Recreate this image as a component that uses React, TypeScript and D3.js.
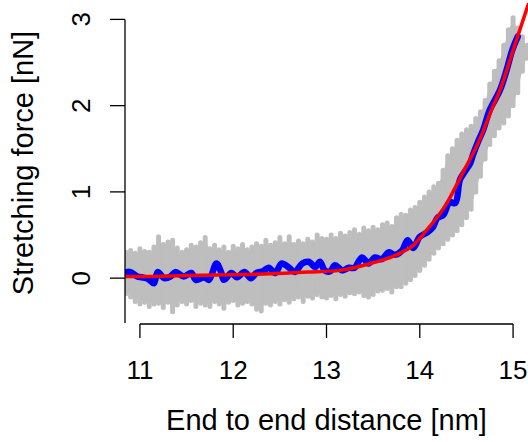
import React from "react";
import * as d3 from "d3";

// raw force samples: x position [nm] with lower / upper extent of the gray cloud [nN]
const grayX = [
  10.85, 10.9, 10.95, 11.0, 11.05, 11.1, 11.15, 11.2, 11.25, 11.3, 11.35, 11.4, 11.45, 11.5, 11.55,
  11.6, 11.65, 11.7, 11.75, 11.8, 11.85, 11.9, 11.95, 12.0, 12.05, 12.1, 12.15, 12.2, 12.25, 12.3,
  12.35, 12.4, 12.45, 12.5, 12.55, 12.6, 12.65, 12.7, 12.75, 12.8, 12.85, 12.9, 12.95, 13.0, 13.05,
  13.1, 13.15, 13.2, 13.25, 13.3, 13.35, 13.4, 13.45, 13.5, 13.55, 13.6, 13.65, 13.7, 13.75, 13.8,
  13.85, 13.9, 13.95, 14.0, 14.05, 14.1, 14.15, 14.2, 14.25, 14.3, 14.35, 14.4, 14.45, 14.5, 14.55,
  14.6, 14.65, 14.7, 14.75, 14.8, 14.85, 14.9, 14.95, 15.0, 15.05, 15.1, 15.15,
];
const grayLo = [
  -0.18, -0.22, -0.27, -0.3, -0.28, -0.33, -0.3, -0.29, -0.34, -0.28, -0.39, -0.31, -0.27, -0.3, -0.26,
  -0.33, -0.29, -0.31, -0.33, -0.27, -0.3, -0.35, -0.28, -0.26, -0.31, -0.29, -0.27, -0.3, -0.36, -0.38,
  -0.29, -0.31, -0.27, -0.3, -0.25, -0.28, -0.24, -0.22, -0.27, -0.21, -0.23, -0.19, -0.22, -0.23, -0.2,
  -0.24, -0.19, -0.21, -0.17, -0.18, -0.16, -0.2, -0.22, -0.19, -0.15, -0.14, -0.12, -0.16, -0.1, -0.1,
  -0.06, -0.02, 0.03, 0.09, 0.15, 0.22, 0.29, 0.35, 0.4, 0.45, 0.5, 0.55, 0.62, 0.7, 0.8,
  1.0, 1.18, 1.38, 1.55, 1.65, 1.74, 1.8, 1.88, 2.0, 2.15, 2.4, 2.55,
];
const grayHi = [
  0.3, 0.32, 0.29, 0.34, 0.31, 0.3, 0.36, 0.48, 0.39, 0.42, 0.44, 0.35, 0.3, 0.33, 0.38,
  0.36, 0.41, 0.47, 0.34, 0.38, 0.33, 0.36, 0.3, 0.37, 0.34, 0.39, 0.33, 0.36, 0.4, 0.37,
  0.44, 0.38, 0.41, 0.47, 0.4, 0.48, 0.39, 0.43, 0.4, 0.45, 0.42, 0.5, 0.46, 0.45, 0.5,
  0.46, 0.52, 0.49, 0.53, 0.56, 0.51, 0.58, 0.55, 0.59, 0.56, 0.62, 0.64, 0.6, 0.7, 0.74,
  0.73, 0.79, 0.82, 0.88, 0.94, 1.0, 1.06, 1.1, 1.25, 1.42, 1.5, 1.6, 1.67, 1.72, 1.76,
  1.85, 1.93, 2.06, 2.25, 2.4, 2.52, 2.7, 2.88, 3.02, 2.9, 2.8, 2.7,
];

// smoothed trace (blue)
const blueX = [
  10.85, 10.9, 10.97, 11.02, 11.09, 11.15, 11.19, 11.26, 11.33, 11.38, 11.47, 11.55, 11.6, 11.69,
  11.74, 11.82, 11.87, 11.9, 11.98, 12.04, 12.12, 12.19, 12.25, 12.32, 12.38, 12.45, 12.52, 12.6,
  12.66, 12.74, 12.81, 12.88, 12.93, 12.98, 13.04, 13.09, 13.17, 13.24, 13.3, 13.38, 13.45, 13.52,
  13.59, 13.67, 13.73, 13.81, 13.87, 13.93, 14.0, 14.08, 14.14, 14.19, 14.25, 14.32, 14.38, 14.43,
  14.48, 14.54, 14.57, 14.62, 14.68, 14.75, 14.86, 14.93, 14.99, 15.05,
];
const blueY = [
  0.07, 0.07, 0.02, 0.01, -0.01, -0.06, 0.07, 0.0, 0.02, 0.07, 0.02, 0.06, -0.02, 0.01,
  -0.02, 0.17, 0.07, -0.02, 0.06, 0.01, 0.07, 0.0, 0.06, 0.08, 0.12, 0.06, 0.17, 0.12,
  0.07, 0.17, 0.19, 0.13, 0.19, 0.09, 0.08, 0.15, 0.09, 0.12, 0.12, 0.24, 0.17, 0.24,
  0.22, 0.3, 0.27, 0.32, 0.44, 0.35, 0.48, 0.53, 0.59, 0.7, 0.73, 0.88, 0.87, 1.14,
  1.23, 1.33, 1.43, 1.57, 1.72, 1.95, 2.18, 2.41, 2.64, 2.8,
];

// fitted model (red)
const fitX = [10.8, 11.0, 11.5, 12.0, 12.4, 12.8, 13.14, 13.47, 13.79, 13.95, 14.03, 14.29, 14.46, 14.64, 14.78, 14.86, 15.0, 15.14, 15.22];
const fitY = [0.02, 0.02, 0.03, 0.04, 0.05, 0.07, 0.09, 0.17, 0.29, 0.4, 0.5, 0.87, 1.22, 1.6, 1.98, 2.18, 2.64, 3.1, 3.36];

const xTicks = [11, 12, 13, 14, 15];
const yTicks = [0, 1, 2, 3];

const W = 528;
const H = 442;
const font = "'Liberation Sans', Arial, sans-serif";

export default function App() {
  const x = d3.scaleLinear().domain([10.84, 15.16]).range([125, 528]);
  const y = d3.scaleLinear().domain([-0.52, 3.19]).range([323, 3]);

  const [x0, x1] = x.range();
  const [yb, yt] = y.range();

  // solid core of the cloud, streaks on top give the ragged edge
  const cloud = d3
    .area<number>()
    .x((d) => x(d))
    .y0((_, i) => y(grayLo[i]) - 2)
    .y1((_, i) => y(grayHi[i]) + 2)
    .curve(d3.curveLinear);

  const blueLine = d3
    .line<number>()
    .x((_, i) => x(blueX[i]))
    .y((d) => y(d))
    .curve(d3.curveCatmullRom);

  const fitLine = d3
    .line<number>()
    .x((_, i) => x(fitX[i]))
    .y((d) => y(d))
    .curve(d3.curveMonotoneX);

  const axisY = yb + 1;
  const axisX = x0;

  return (
    <svg
      width={W}
      height={H}
      style={{ position: "absolute", left: 0, top: 0, background: "#fff" }}
      fontFamily={font}
    >
      <defs>
        <clipPath id="plot">
          <rect x={x0} y={yt} width={x1 - x0} height={yb - yt} />
        </clipPath>
      </defs>

      <g clipPath="url(#plot)">
        <path d={cloud(grayX) ?? ""} fill="#bebebe" />
        <g stroke="#bebebe" strokeWidth={5} strokeLinecap="round">
          {grayX.map((gx, i) => (
            <line key={i} x1={x(gx)} x2={x(gx)} y1={y(grayLo[i])} y2={y(grayHi[i])} />
          ))}
        </g>
        <path
          d={blueLine(blueY) ?? ""}
          fill="none"
          stroke="#0000ff"
          strokeWidth={6.5}
          strokeLinejoin="round"
          strokeLinecap="round"
        />
        <path d={fitLine(fitY) ?? ""} fill="none" stroke="#ff0000" strokeWidth={3.5} />
      </g>

      {/* y axis */}
      <g stroke="#000" strokeWidth={1.3}>
        <line x1={axisX} x2={axisX} y1={y(3)} y2={yb} />
        {yTicks.map((t) => (
          <line key={t} x1={axisX - 15} x2={axisX} y1={y(t)} y2={y(t)} />
        ))}
      </g>
      {yTicks.map((t) => (
        <text
          key={t}
          transform={`translate(${axisX - 35},${y(t)}) rotate(-90)`}
          textAnchor="middle"
          fontSize={26}
          fill="#000"
        >
          {t}
        </text>
      ))}

      {/* x axis */}
      <g stroke="#000" strokeWidth={1.3}>
        <line x1={x(11)} x2={x(15)} y1={axisY} y2={axisY} />
        {xTicks.map((t) => (
          <line key={t} x1={x(t)} x2={x(t)} y1={axisY} y2={axisY + 14} />
        ))}
      </g>
      {xTicks.map((t) => (
        <text key={t} x={x(t)} y={379} textAnchor="middle" fontSize={26} fill="#000">
          {t}
        </text>
      ))}

      <text x={(x0 + x1) / 2} y={430} textAnchor="middle" fontSize={29} fill="#000">
        End to end distance [nm]
      </text>
      <text
        transform={`translate(33,${(yb + yt) / 2}) rotate(-90)`}
        textAnchor="middle"
        fontSize={29}
        fill="#000"
      >
        Stretching force [nN]
      </text>
    </svg>
  );
}
